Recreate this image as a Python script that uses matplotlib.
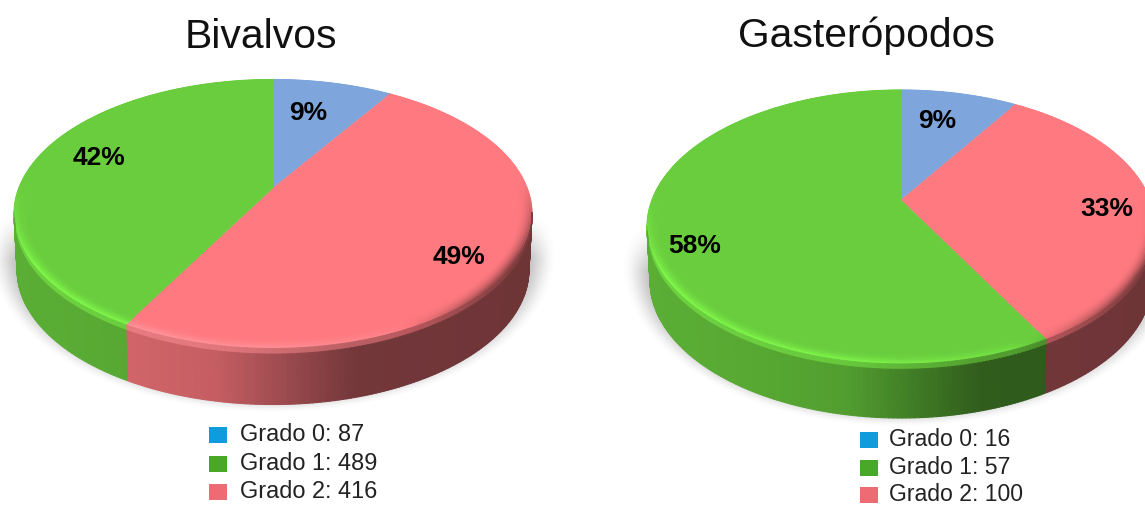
"""Two perspective 3D style pies of shell damage grade, bivalves and gastropods."""

import numpy as np
import matplotlib
matplotlib.use("Agg")
import matplotlib.pyplot as plt
from matplotlib.collections import PolyCollection
from matplotlib.patches import Polygon, Rectangle

plt.rcParams['font.family'] = ['Liberation Sans', 'DejaVu Sans']

bivalvos_pct = [9, 49, 42]
gasteropodos_pct = [9, 33, 58]
bivalvos_counts = [87, 489, 416]
gasteropodos_counts = [16, 57, 100]
grados = ["Grado 0", "Grado 1", "Grado 2"]

# top face colour of each slice, pink comes second going clockwise
face_blue = np.array([0x7f, 0xa6, 0xdc]) / 255
face_green = np.array([0x6a, 0xcd, 0x3e]) / 255
face_pink = np.array([0xff, 0x7a, 0x80]) / 255
slice_colors = [face_blue, face_pink, face_green]
legend_colors = ["#0f9bdc", "#4aa828", "#ee6b74"]


def rim(theta, r, cx, cy, A, B, c):
    # circle seen in perspective: ellipse centre (cx, cy), circle centre lands c px above it
    u = r * np.sin(theta)
    v = r * np.cos(theta)
    d = 1 + (c / B) * v
    a = A * np.sqrt(1 - (c / B) ** 2)
    return cx + a * u / d, cy - (B * v + c) / d


def draw_shadow(ax, cx, cy, A, B, D):
    xs = np.arange(cx - A - 40, cx + A + 40)
    ys = np.arange(cy, cy + B + D + 50)
    xx, yy = np.meshgrid(xs, ys)
    r = np.sqrt(((xx - cx) / (A + 17)) ** 2 + ((yy - cy - D * 0.72) / (B + 20)) ** 2)
    s = np.clip((1.03 - r) / 0.13, 0, 1)
    img = np.ones(xx.shape + (4,)) * 0.5
    # fades out upward as well, so the top of the grid leaves no edge
    img[..., 3] = 0.55 * s * s * (3 - 2 * s) * np.clip((yy - cy) / 45, 0, 1)
    ax.imshow(img, extent=(xs[0], xs[-1], ys[-1], ys[0]), aspect='auto', zorder=0,
              interpolation='bilinear')


def draw_pie(ax, pct, cx, cy, A, B, c, D):
    edges = np.cumsum([0] + pct) / 100 * 2 * np.pi
    apex = rim(0.0, 0.0, cx, cy, A, B, c)
    draw_shadow(ax, cx, cy, A, B, D)

    # flat top
    for i in range(len(pct)):
        th = np.linspace(edges[i], edges[i + 1], 200)
        x, y = rim(th, 1.0, cx, cy, A, B, c)
        pts = np.column_stack([np.r_[apex[0], x], np.r_[apex[1], y]])
        ax.add_patch(Polygon(pts, closed=True, fc=slice_colors[i], ec=slice_colors[i],
                             lw=0.3, zorder=2))

    # bevel and side wall, cut in small quads so the shading can follow x
    quads = []
    cols = []
    for i in range(len(pct)):
        n = max(int((edges[i + 1] - edges[i]) * 70), 2)
        th = np.linspace(edges[i], edges[i + 1], n + 1)
        base = slice_colors[i]
        for t0, t1 in zip(th[:-1], th[1:]):
            x0, y0 = rim(t0, 1.0, cx, cy, A, B, c)
            x1, y1 = rim(t1, 1.0, cx, cy, A, B, c)
            ix0, iy0 = rim(t0, 0.95, cx, cy, A, B, c)
            ix1, iy1 = rim(t1, 0.95, cx, cy, A, B, c)
            xm = (x0 + x1) / 2
            ym = (y0 + y1) / 2
            tx = (xm - (cx - A)) / (2 * A)
            side = np.interp(tx, [0, 0.22, 0.39, 0.53, 0.66, 1],
                             [0.85, 0.82, 0.77, 0.6, 0.45, 0.43]) * base
            bev = np.clip(np.interp(tx, [0, 0.4, 0.72, 1], [1.2, 1.18, 1.08, 0.5]) * base, 0, 1)
            front = np.clip((ym - cy + 30) / 80, 0, 1)
            # bevel rings on the top face
            for f0, f1 in zip(np.linspace(0, 1, 7)[:-1], np.linspace(0, 1, 7)[1:]):
                w = f1 * f1 * front
                quads.append([(ix0 + (x0 - ix0) * f0, iy0 + (y0 - iy0) * f0),
                              (ix1 + (x1 - ix1) * f0, iy1 + (y1 - iy1) * f0),
                              (ix1 + (x1 - ix1) * f1, iy1 + (y1 - iy1) * f1),
                              (ix0 + (x0 - ix0) * f1, iy0 + (y0 - iy0) * f1)])
                cols.append(base * (1 - w) + bev * w)
            if ym < cy - 2:
                continue
            for f0, f1 in zip(np.linspace(0, 1, 11)[:-1], np.linspace(0, 1, 11)[1:]):
                w = np.clip(f1 / 0.2, 0, 1)
                # lower disc sits a little further away, so it is a bit narrower
                q0 = 1 - 0.012 * f0
                q1 = 1 - 0.012 * f1
                quads.append([(cx + (x0 - cx) * q0, y0 + D * f0), (cx + (x1 - cx) * q0, y1 + D * f0),
                              (cx + (x1 - cx) * q1, y1 + D * f1), (cx + (x0 - cx) * q1, y0 + D * f1)])
                cols.append(bev * (1 - w) + side * w)
    pc = PolyCollection(quads, facecolors=cols, edgecolors='face', linewidths=0.8, zorder=3)
    ax.add_collection(pc)


def draw_legend(ax, counts, x, ys, gap, size):
    for i in range(3):
        ax.add_patch(Rectangle((x, ys[i] - 8), 18, 16, fc=legend_colors[i], ec='none', zorder=4))
        ax.text(x + gap, ys[i] + 6, "%s: %d" % (grados[i], counts[i]), fontsize=size,
                color='#222222', va='baseline', ha='left', zorder=5)


fig = plt.figure(figsize=(11.45, 5.05), dpi=100)
ax = fig.add_axes([0, 0, 1, 1])

draw_pie(ax, bivalvos_pct, 273, 214, 259, 134.5, 26, 56)
draw_pie(ax, gasteropodos_pct, 901, 227, 254, 137, 27, 54)

ax.set_xlim(0, 1145)
ax.set_ylim(505, 0)
ax.axis('off')

ax.text(261, 48, "Bivalvos", fontsize=29.4, ha='center', va='baseline', color='#111111')
ax.text(866, 47, "Gasterópodos", fontsize=29.4, ha='center', va='baseline', color='#111111')

# percent labels, same order as the slices
pct_spots_left = [(308, 113), (459, 257), (99, 158)]
pct_spots_right = [(937, 121), (1107, 209), (695, 246)]
for val, pos in zip(bivalvos_pct, pct_spots_left):
    ax.text(pos[0], pos[1], "%d%%" % val, fontsize=19, fontweight='bold', ha='center',
            va='center', color='black', zorder=6)
for val, pos in zip(gasteropodos_pct, pct_spots_right):
    ax.text(pos[0], pos[1], "%d%%" % val, fontsize=19, fontweight='bold', ha='center',
            va='center', color='black', zorder=6)

draw_legend(ax, bivalvos_counts, 209, [435, 464, 492], 31, 16.9)
draw_legend(ax, gasteropodos_counts, 860, [440, 468, 495], 29, 16.6)

fig.savefig("out.png", dpi=100)
